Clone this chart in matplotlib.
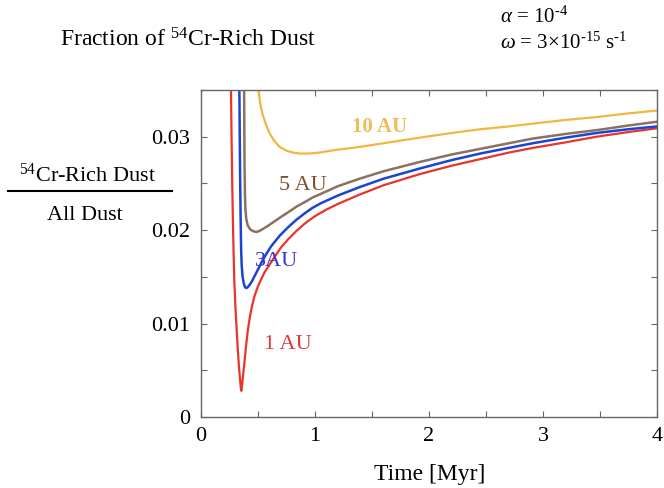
import matplotlib
matplotlib.use("Agg")
import matplotlib.pyplot as plt
from matplotlib.lines import Line2D
from matplotlib.ticker import MultipleLocator, FormatStrFormatter

plt.rcParams['font.family'] = ['Liberation Serif', 'DejaVu Serif']
plt.rcParams['mathtext.fontset'] = 'custom'
plt.rcParams['mathtext.rm'] = 'Liberation Serif'
plt.rcParams['mathtext.it'] = 'Liberation Serif:italic'
plt.rcParams['mathtext.bf'] = 'Liberation Serif:bold'

# data (time in Myr, fraction of 54Cr-rich dust)
t_1au = [0.262, 0.268, 0.274, 0.280, 0.286, 0.292, 0.302, 0.313, 0.323, 0.333, 0.342, 0.350,
         0.354, 0.362, 0.372, 0.383, 0.397, 0.412, 0.43, 0.45, 0.471, 0.50, 0.53, 0.558, 0.59,
         0.617, 0.66, 0.705, 0.77, 0.836, 0.91, 1.0, 1.1, 1.2, 1.39, 1.6, 1.92, 2.2, 2.45, 2.7,
         2.91, 3.2, 3.47, 3.75, 4.0]
y_1au = [0.036, 0.030, 0.025, 0.021, 0.0175, 0.0147, 0.0118, 0.0093, 0.0072, 0.0054, 0.0041,
         0.0030, 0.0028, 0.0036, 0.0048, 0.0061, 0.0078, 0.0094, 0.0108, 0.0120, 0.0130, 0.0140,
         0.0148, 0.0155, 0.0161, 0.0166, 0.0174, 0.0182, 0.0191, 0.0199, 0.0207, 0.0215, 0.0222,
         0.0228, 0.0238, 0.0248, 0.0260, 0.0269, 0.0276, 0.0283, 0.0288, 0.0294, 0.0300, 0.0305,
         0.0309]

t_3au = [0.336, 0.340, 0.344, 0.348, 0.352, 0.357, 0.365, 0.375, 0.386, 0.398, 0.41, 0.43,
         0.45, 0.471, 0.50, 0.529, 0.57, 0.617, 0.69, 0.763, 0.836, 0.91, 0.98, 1.055, 1.2,
         1.39, 1.6, 1.92, 2.2, 2.45, 2.7, 2.91, 3.2, 3.47, 3.75, 4.0]
y_3au = [0.036, 0.030, 0.025, 0.021, 0.018, 0.0162, 0.0150, 0.0143, 0.0139, 0.0138, 0.0139,
         0.0142, 0.0146, 0.0151, 0.0158, 0.0165, 0.0174, 0.0183, 0.0194, 0.0203, 0.0211, 0.0218,
         0.0224, 0.0229, 0.0237, 0.0246, 0.0255, 0.0266, 0.0275, 0.0282, 0.0288, 0.0293, 0.0299,
         0.0304, 0.0308, 0.0311]

t_5au = [0.378, 0.380, 0.382, 0.385, 0.390, 0.397, 0.41, 0.43, 0.455, 0.485, 0.51, 0.54, 0.58,
         0.64, 0.70, 0.763, 0.836, 0.91, 0.98, 1.055, 1.2, 1.39, 1.6, 1.92, 2.2, 2.45, 2.7,
         2.91, 3.2, 3.47, 3.75, 4.0]
y_5au = [0.036, 0.031, 0.027, 0.024, 0.0222, 0.0212, 0.0205, 0.0201, 0.0199, 0.0198, 0.0199,
         0.0201, 0.0204, 0.0209, 0.0214, 0.0219, 0.0225, 0.0230, 0.0235, 0.0239, 0.0247, 0.0255,
         0.0263, 0.0273, 0.0281, 0.0287, 0.0293, 0.0298, 0.0303, 0.0307, 0.0312, 0.0316]

t_10au = [0.50, 0.52, 0.54, 0.57, 0.60, 0.64, 0.69, 0.75, 0.81, 0.87, 0.95, 1.04, 1.19, 1.39,
          1.6, 1.92, 2.2, 2.45, 2.7, 2.91, 3.2, 3.47, 3.75, 4.0]
y_10au = [0.0355, 0.0335, 0.0324, 0.0313, 0.0304, 0.0296, 0.0289, 0.0285, 0.0283, 0.0282,
          0.0282, 0.0283, 0.0286, 0.0289, 0.0293, 0.0299, 0.0304, 0.0308, 0.0311, 0.0314,
          0.0318, 0.0321, 0.0325, 0.0328]

fig = plt.figure(figsize=(6.64, 4.88), dpi=100)
ax = fig.add_axes([0.3027, 0.1455, 0.6868, 0.6701])

ax.plot(t_1au, y_1au, color='#e8342c', lw=1.6)
ax.plot(t_3au, y_3au, color='#1a44d4', lw=1.8)
ax.plot(t_5au, y_5au, color='#8c7064', lw=1.8)
ax.plot(t_10au, y_10au, color='#f2b640', lw=1.6)

ax.text(1.57, 0.0310, '10 AU', color='#f0bc5a', fontsize=15, fontweight='bold', ha='center', va='center')
ax.text(0.895, 0.0248, '5 AU', color='#7e5033', fontsize=16, ha='center', va='center')
ax.text(0.667, 0.0166, '3AU', color='#3a36d0', fontsize=16, ha='center', va='center')
ax.text(0.763, 0.0078, '1 AU', color='#e0393a', fontsize=16, ha='center', va='center')

ax.set_xlim(0, 4)
ax.set_ylim(0, 0.035)
ax.xaxis.set_major_locator(MultipleLocator(1))
ax.xaxis.set_minor_locator(MultipleLocator(0.5))
ax.yaxis.set_major_locator(MultipleLocator(0.01))
ax.yaxis.set_minor_locator(MultipleLocator(0.005))
ax.xaxis.set_major_formatter(FormatStrFormatter('%g'))
ax.yaxis.set_major_formatter(FormatStrFormatter('%g'))
ax.tick_params(which='both', direction='in', top=True, right=True, color='#666666',
               labelsize=16, width=0.8, length=4)
ax.tick_params(axis='y', pad=8)
ax.tick_params(axis='x', pad=7)
for s in ax.spines.values():
    s.set_color('#666666')
    s.set_linewidth(1.0)

fig.text(0.6476, 0.027, 'Time [Myr]', fontsize=17, ha='center', va='center')
fig.text(0.090, 0.918, r'Fraction of $^{54}$Cr-Rich Dust', fontsize=17, ha='left', va='center')
fig.text(0.753, 0.965, '$\\alpha$ = 10$^{\u20104}$', fontsize=15, ha='left', va='center')
fig.text(0.753, 0.912, '$\\omega$ = 3×10$^{\u201015}$ s$^{\u20101}$', fontsize=15, ha='left', va='center')

fig.text(0.1325, 0.641, r'$^{54}$Cr-Rich Dust', fontsize=16, ha='center', va='center')
fig.add_artist(Line2D([0.012, 0.259], [0.609, 0.609], color='black', lw=1.5,
                      transform=fig.transFigure))
fig.text(0.128, 0.559, 'All Dust', fontsize=16, ha='center', va='center')

fig.savefig('out.png', dpi=100)
